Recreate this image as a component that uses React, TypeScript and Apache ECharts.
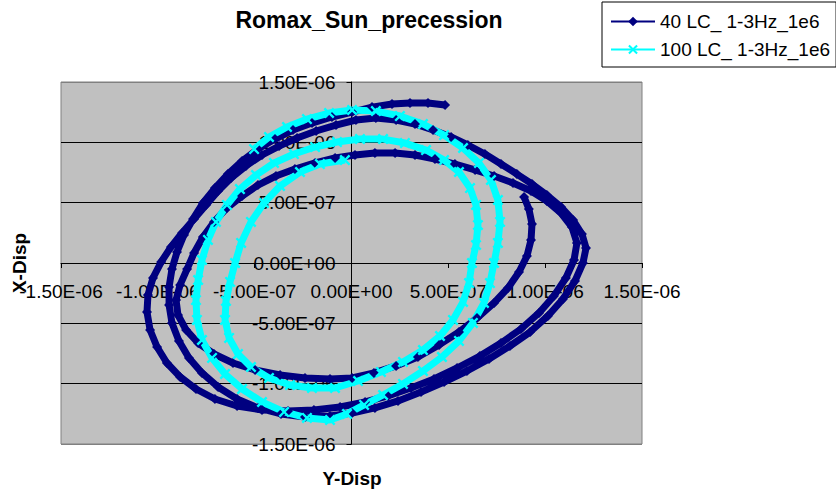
import React, { useEffect, useRef } from "react";
import * as echarts from "echarts";

// Values are in units of 1e-7 (axis ticks every 5 units = 5.00E-07)
const chartTitle = "Romax_Sun_precession";
const xAxisName = "Y-Disp";
const yAxisName = "X-Disp";
const seriesNames = ["40 LC_ 1-3Hz_1e6", "100 LC_ 1-3Hz_1e6"];
const axisMin = -15;
const axisMax = 15;
const axisStep = 5;

const navyPoints: [number, number][] = [
  [4.83, 13.09], [3.95, 13.26], [3.02, 13.26], [2.09, 13.17], [1.06, 12.92], [0.03, 12.51], [-1.01, 12.1], [-2.04, 11.6],
  [-3.02, 11.02], [-3.95, 10.27], [-4.83, 9.44], [-5.65, 8.45], [-6.38, 7.37], [-7.05, 6.21], [-7.67, 4.97], [-8.18, 3.65],
  [-8.65, 2.32], [-9.01, 0.91], [-9.27, -0.5], [-9.42, -1.99], [-9.42, -3.48], [-9.27, -4.97], [-8.91, -6.46], [-8.39, -7.87],
  [-7.72, -9.11], [-6.89, -10.27], [-5.91, -11.27], [-4.83, -12.01], [-3.64, -12.51], [-2.4, -12.76], [-1.11, -12.68], [0.03, -12.43],
  [1.21, -12.01], [2.4, -11.43], [3.59, -10.69], [4.78, -9.86], [5.96, -8.95], [7.1, -7.95], [8.18, -6.88], [9.22, -5.72],
  [10.14, -4.39], [10.92, -2.98], [11.54, -1.49], [11.95, 0], [12.11, 1.24], [11.9, 2.4], [11.44, 3.56], [10.82, 4.64],
  [10.09, 5.63], [9.32, 6.55], [8.54, 7.37], [7.72, 8.2], [6.89, 9.03], [6.01, 9.78], [5.14, 10.44], [4.21, 11.02],
  [3.28, 11.52], [2.3, 11.85], [1.26, 12.01], [0.23, 11.85], [-0.8, 11.43], [-1.83, 10.94], [-2.81, 10.36], [-3.74, 9.69],
  [-4.62, 8.95], [-5.45, 8.04], [-6.22, 7.04], [-6.89, 5.97], [-7.51, 4.81], [-8.13, 3.65], [-8.75, 2.49], [-9.32, 1.33],
  [-9.83, 0.08], [-10.25, -1.24], [-10.51, -2.65], [-10.56, -4.06], [-10.4, -5.55], [-10.04, -6.96], [-9.53, -8.29], [-8.85, -9.44],
  [-8.03, -10.44], [-7.05, -11.27], [-5.91, -11.85], [-4.62, -12.18], [-3.28, -12.26], [-1.94, -12.18], [-0.59, -11.93], [0.7, -11.52],
  [1.88, -11.02], [3.07, -10.36], [4.26, -9.61], [5.45, -8.7], [6.63, -7.71], [7.72, -6.63], [8.75, -5.47], [9.68, -4.14],
  [10.45, -2.73], [11.07, -1.24], [11.49, 0.25], [11.64, 1.66], [11.38, 2.98], [10.82, 4.14], [10.09, 5.14], [9.27, 5.97],
  [8.34, 6.63], [7.36, 7.21], [6.38, 7.71], [5.34, 8.2], [4.31, 8.62], [3.28, 8.95], [2.25, 9.11], [1.21, 9.11],
  [0.18, 8.95], [-0.85, 8.7], [-1.88, 8.29], [-2.92, 7.79], [-3.9, 7.21], [-4.83, 6.46], [-5.65, 5.55], [-6.43, 4.56],
  [-7.1, 3.4], [-7.67, 2.15], [-8.13, 0.83], [-8.49, -0.5], [-8.85, -1.82], [-9.06, -3.07], [-8.96, -4.31], [-8.54, -5.55],
  [-7.92, -6.63], [-7.1, -7.54], [-6.12, -8.29], [-4.98, -8.86], [-3.69, -9.28], [-2.4, -9.53], [-1.11, -9.61], [0.03, -9.53],
  [1.16, -9.11], [2.3, -8.53], [3.43, -7.79], [4.52, -6.79], [5.55, -5.72], [6.48, -4.56], [7.36, -3.31], [8.08, -2.07],
  [8.65, -0.75], [9.06, 0.58], [9.27, 1.91], [9.32, 3.23], [9.16, 4.47], [8.91, 5.47],
];

const cyanPoints: [number, number][] = [
  [-0.34, 8.53], [-1.63, 8.2], [-2.66, 7.54], [-3.69, 6.38], [-4.52, 4.97], [-5.19, 3.4], [-5.7, 1.66], [-6.01, 0],
  [-6.27, -1.57], [-6.48, -3.15], [-6.53, -4.72], [-6.32, -6.21], [-5.86, -7.54], [-5.19, -8.62], [-4.26, -9.53], [-3.18, -10.11],
  [-2.04, -10.36], [-0.85, -10.36], [0.34, -9.78], [1.52, -9.03], [2.66, -8.2], [3.69, -7.21], [4.57, -6.05], [5.24, -4.72],
  [5.76, -3.23], [6.07, -1.66], [6.22, 0], [6.43, 1.49], [6.53, 3.15], [6.43, 4.81], [6.12, 6.21], [5.55, 7.54],
  [4.78, 8.53], [3.85, 9.36], [2.76, 9.94], [1.63, 10.27], [0.44, 10.27], [-0.75, 10.02], [-1.88, 9.61], [-2.97, 9.03],
  [-4.0, 8.29], [-4.93, 7.29], [-5.76, 6.13], [-6.43, 4.81], [-7.0, 3.4], [-7.41, 1.91], [-7.72, 0.25], [-7.92, -1.41],
  [-8.03, -3.07], [-7.98, -4.72], [-7.72, -6.38], [-7.2, -7.87], [-6.53, -9.2], [-5.65, -10.44], [-4.62, -11.52], [-3.48, -12.34],
  [-2.3, -12.84], [-1.11, -13.01], [-0.23, -12.51], [0.65, -11.76], [1.63, -10.94], [2.66, -10.02], [3.69, -8.95], [4.67, -7.79],
  [5.55, -6.46], [6.27, -4.97], [6.84, -3.31], [7.15, -1.66], [7.36, 0], [7.56, 1.66], [7.67, 3.4], [7.56, 5.22],
  [7.2, 6.88], [6.58, 8.29], [5.76, 9.53], [4.78, 10.6], [3.69, 11.52], [2.5, 12.18], [1.26, 12.59], [0.03, 12.68],
  [-1.16, 12.43], [-2.3, 11.93], [-3.33, 11.27], [-4.26, 10.44], [-5.03, 9.44],
];

const FONT = '"Liberation Sans", Arial, Helvetica, sans-serif';
const X_SYMBOL =
  "path://M0,1.5L1.5,0L5,3.5L8.5,0L10,1.5L6.5,5L10,8.5L8.5,10L5,6.5L1.5,10L0,8.5L3.5,5Z";

function sci(v: number): string {
  if (Math.abs(v) < 1e-9) return "0.00E+00";
  const p = Math.floor(Math.log10(Math.abs(v)) + 1e-9);
  const m = v / Math.pow(10, p);
  const e = p - 7;
  const sign = e < 0 ? "-" : "+";
  const ae = Math.abs(e);
  return m.toFixed(2) + "E" + sign + (ae < 10 ? "0" : "") + ae;
}

// grid geometry
const G_LEFT = 61;
const G_RIGHT = 642;
const G_TOP = 82;
const G_BOTTOM = 444;
const W = 836;
const H = 491;
const zeroX = (G_LEFT + G_RIGHT) / 2;
const zeroY = (G_TOP + G_BOTTOM) / 2;

export default function App() {
  const ref = useRef<HTMLDivElement>(null);
  useEffect(() => {
    document.body.style.margin = "0";
    if (!ref.current) return;
    const chart = echarts.init(ref.current, undefined, { renderer: "svg" });
    chart.setOption({
      animation: false,
      backgroundColor: "#ffffff",
      textStyle: { fontFamily: FONT },
      grid: {
        left: G_LEFT,
        right: W - G_RIGHT,
        top: G_TOP,
        bottom: H - G_BOTTOM,
        containLabel: false,
        outerBoundsMode: "none",
        show: true,
        backgroundColor: "#c0c0c0",
        borderColor: "#808080",
        borderWidth: 1,
      },
      legend: {
        orient: "vertical",
        left: 602,
        top: 2,
        padding: [10, 6, 8, 8],
        itemGap: 9,
        itemWidth: 44,
        itemHeight: 12,
        borderColor: "#000",
        borderWidth: 1,
        backgroundColor: "#fff",
        lineStyle: { width: 2 },
        textStyle: { fontSize: 19, color: "#000", fontFamily: FONT },
        data: seriesNames,
      },
      xAxis: {
        type: "value",
        position: "bottom",
        offset: -(G_BOTTOM - zeroY),
        min: axisMin,
        max: axisMax,
        interval: axisStep,
        axisLine: { onZero: false, lineStyle: { color: "#000", width: 1 } },
        axisTick: { show: true, length: 5, lineStyle: { color: "#000" } },
        axisLabel: { formatter: sci, fontSize: 19, color: "#000", margin: 19, fontFamily: FONT },
        splitLine: { show: false },
      },
      yAxis: {
        type: "value",
        position: "left",
        offset: -(zeroX - G_LEFT),
        min: axisMin,
        max: axisMax,
        interval: axisStep,
        axisLine: { onZero: false, lineStyle: { color: "#000", width: 1 } },
        axisTick: { show: true, length: 5, lineStyle: { color: "#000" } },
        axisLabel: { formatter: sci, fontSize: 19, color: "#000", margin: 16, fontFamily: FONT },
        splitLine: {
          show: true,
          lineStyle: {
            color: ["#808080", "#000", "#000", "#000", "#000", "#000", "#808080"],
            width: 1,
          },
        },
      },
      graphic: [
        {
          type: "text",
          x: 369,
          y: 20,
          style: {
            text: chartTitle,
            font: "bold 23px " + FONT,
            fill: "#000",
            align: "center",
            verticalAlign: "middle",
            textAlign: "center",
            textVerticalAlign: "middle",
          },
        },
        {
          type: "text",
          x: 352,
          y: 478,
          style: {
            text: xAxisName,
            font: "bold 19px " + FONT,
            fill: "#000",
            align: "center",
            verticalAlign: "middle",
            textAlign: "center",
            textVerticalAlign: "middle",
          },
        },
        {
          type: "text",
          x: 19,
          y: 263,
          rotation: Math.PI / 2,
          style: {
            text: yAxisName,
            font: "bold 19px " + FONT,
            fill: "#000",
            align: "center",
            verticalAlign: "middle",
            textAlign: "center",
            textVerticalAlign: "middle",
          },
        },
      ],
      series: [
        {
          name: seriesNames[0],
          type: "line",
          data: navyPoints,
          symbol: "diamond",
          symbolSize: 10,
          showAllSymbol: true,
          itemStyle: { color: "#000080" },
          lineStyle: { color: "#000080", width: 7 },
          emphasis: { disabled: true },
        },
        {
          name: seriesNames[1],
          type: "line",
          data: cyanPoints,
          symbol: X_SYMBOL,
          symbolSize: 11,
          showAllSymbol: true,
          itemStyle: { color: "#00ffff" },
          lineStyle: { color: "#00ffff", width: 7 },
          emphasis: { disabled: true },
        },
      ],
    });
    return () => chart.dispose();
  }, []);
  return (
    <div
      ref={ref}
      style={{ position: "absolute", left: 0, top: 0, width: W, height: H }}
    />
  );
}
